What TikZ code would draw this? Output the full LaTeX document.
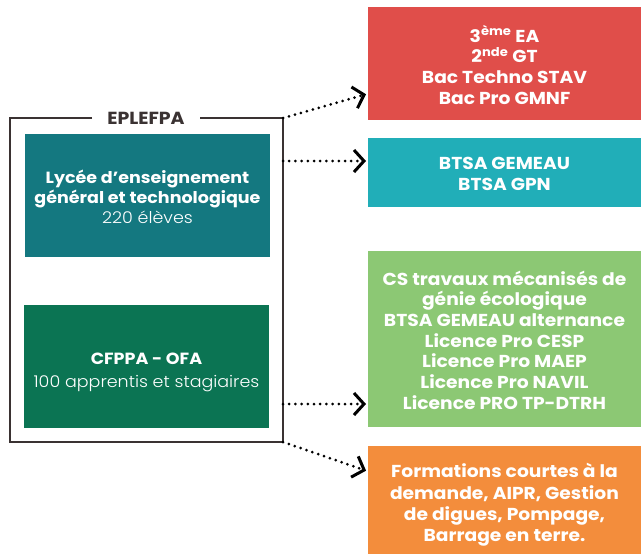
\documentclass[tikz,border=0pt]{standalone}
\usepackage{fontspec}
\setmainfont{Poppins}[FakeStretch=1.08]
\newfontfamily\lightfont{Poppins Light}[FakeStretch=1.08]
\usetikzlibrary{arrows.meta}
\definecolor{cred}{HTML}{E04E4A}
\definecolor{ccyan}{HTML}{21AEB8}
\definecolor{clgreen}{HTML}{8CC874}
\definecolor{corange}{HTML}{F38D3C}
\definecolor{cteal}{HTML}{147880}
\definecolor{cdgreen}{HTML}{0B7453}
\definecolor{cframe}{HTML}{3A3232}
\tikzset{
  rbox/.style={inner sep=0pt, text=white, align=center, font=\bfseries\fontsize{17.3}{20.7}\selectfont},
  lbox/.style={inner sep=0pt, text=white, align=center, font=\fontsize{16.2}{20}\selectfont},
  link/.style={line width=3pt, line cap=round, dash pattern=on 0pt off 6.2pt, -{Straight Barb[length=10pt,width=22pt,line width=3pt]}, black, shorten >=1pt},
}
\begin{document}
\begin{tikzpicture}[x=1pt,y=-1pt]
\useasboundingbox (0,0) rectangle (641,554);
% frame
\draw[cframe, line width=1.3pt] (92,118) -- (10,118) -- (10,442) -- (283,442) -- (283,118) -- (200,118);
\node[text=cframe, font=\bfseries\fontsize{17.5}{19}\selectfont] (title) at (146,118) {EPLEFPA};
\coordinate (ftr) at (283,118);
\coordinate (fbr) at (283,442);
% left boxes
\fill[cteal] (25,134) rectangle (270,257);
\node[lbox] (lycee) at (147.5,196.5) {\textbf{Lycée d’enseignement}\\\textbf{général et technologique}\\{\lightfont 220 élèves}};
\fill[cdgreen] (24,305) rectangle (269,428);
\node[lbox, font=\fontsize{16.2}{23}\selectfont] (cfppa) at (146.5,372) {\textbf{CFPPA - OFA}\\{\lightfont 100 apprentis et stagiaires}};
% right boxes
\fill[cred] (368,7) rectangle (641,120);
\node[rbox] (red) at (504.5,65) {3\textsuperscript{ème} EA\\2\textsuperscript{nde} GT\\Bac Techno STAV\\Bac Pro GMNF};
\fill[ccyan] (368,138) rectangle (641,207);
\node[rbox] (cyan) at (504.5,174) {BTSA GEMEAU\\BTSA GPN};
\fill[clgreen] (368,251) rectangle (641,427);
\node[rbox] (lgreen) at (504.5,340) {CS travaux mécanisés de\\génie écologique\\BTSA GEMEAU alternance\\Licence Pro CESP\\Licence Pro MAEP\\Licence Pro NAVIL\\Licence PRO TP-DTRH};
\fill[corange] (368,446) rectangle (641,554);
\node[rbox, font=\bfseries\fontsize{17.3}{21.3}\selectfont] (orange) at (504.5,505) {Formations courtes à la\\demande, AIPR, Gestion\\de digues, Pompage,\\Barrage en terre.};
% connectors
\coordinate (a1) at (367,94);
\coordinate (s2) at (283,161);
\coordinate (a2) at (367,161);
\coordinate (s3) at (283,404);
\coordinate (a3) at (367,404);
\coordinate (a4) at (367,471);
\draw[link] (ftr) -- (a1);
\draw[link] (s2) -- (a2);
\draw[link] (s3) -- (a3);
\draw[link] (fbr) -- (a4);
\end{tikzpicture}
\end{document}
